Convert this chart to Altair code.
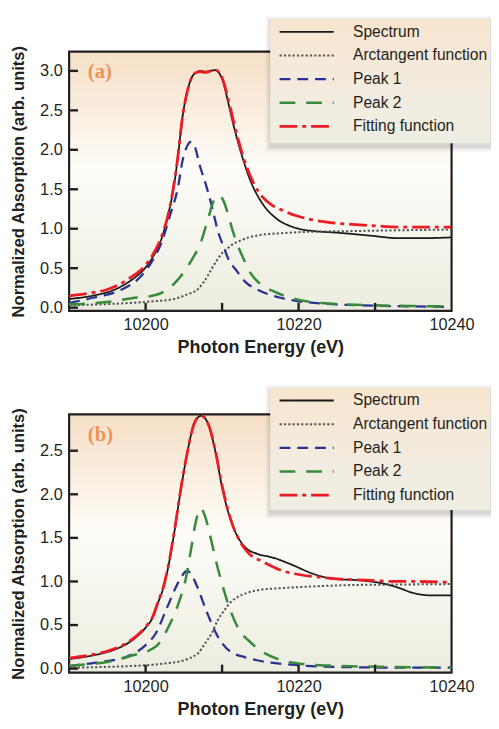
import altair as alt
import pandas as pd

FONT = "Liberation Sans, Arial, sans-serif"
SERIF = "Liberation Serif, Times New Roman, serif"
INK = "#231f20"
ORANGE = "#ef9356"

SERIES = ["Spectrum", "Arctangent function", "Peak 1", "Peak 2", "Fitting function"]
COLORS = ["#1a1a1a", "#555555", "#2b3190", "#3a8a3c", "#ec1c24"]
DASHES = [[1, 0], [2.2, 2.2], [11, 7], [16, 11], [18, 5, 4, 5]]
WIDTHS = [1.8, 2.8, 2.0, 2.0, 2.4]

X_DOMAIN = [10190, 10240]
X_LABELS = [10200, 10220, 10240]
X_TICKS = [10200, 10210, 10220, 10230]

Y_DOMAIN_A = [-0.04, 3.245]
Y_DOMAIN_B = [-0.045, 2.918]
Y_TICKS_A = [0.0, 0.5, 1.0, 1.5, 2.0, 2.5, 3.0]
Y_TICKS_B = [0.0, 0.5, 1.0, 1.5, 2.0, 2.5]

# ---------- panel (a) ----------
A_SPEC_E = [10190, 10193, 10196, 10198, 10200, 10201, 10202, 10203, 10203.6, 10204.2, 10204.8, 10205.4,
            10206, 10206.6, 10207.2, 10207.8, 10208.5, 10209.1, 10209.7, 10210.2, 10210.7, 10211.5,
            10212.8, 10213.5, 10214.2, 10215, 10215.8, 10216.6, 10217.5, 10218.5, 10220, 10222,
            10225, 10229.6, 10233, 10236, 10240]
A_SPEC_V = [0.11, 0.15, 0.23, 0.34, 0.51, 0.65, 0.85, 1.20, 1.48, 1.89, 2.40, 2.72,
            2.91, 2.98, 3.00, 2.99, 3.00, 3.01, 2.96, 2.84, 2.64, 2.31,
            1.86, 1.66, 1.50, 1.36, 1.25, 1.17, 1.10, 1.05, 1.00, 0.97,
            0.95, 0.91, 0.88, 0.88, 0.89]

A_ARC_E = [10190, 10195, 10198, 10201, 10203.7, 10205.5, 10206.8, 10207.5, 10208.1, 10208.8, 10209.4,
           10210, 10210.7, 10211.5, 10212.4, 10213.5, 10215, 10218, 10221, 10227, 10233, 10240]
A_ARC_V = [0.03, 0.045, 0.06, 0.08, 0.11, 0.17, 0.23, 0.31, 0.40, 0.52, 0.61,
           0.69, 0.75, 0.81, 0.85, 0.89, 0.92, 0.945, 0.96, 0.97, 0.98, 0.99]

A_P1_E = [10190, 10193.1, 10196.9, 10199.1, 10200.8, 10202.1, 10203.2, 10204.3, 10204.8, 10205.4, 10205.9,
          10206.5, 10207, 10208, 10208.7, 10209.45, 10210.2, 10210.9, 10211.8, 10213.1, 10214.6, 10217.6,
          10220, 10222, 10226.3, 10232, 10240]
A_P1_V = [0.06, 0.125, 0.23, 0.37, 0.58, 0.83, 1.17, 1.56, 1.85, 2.04, 2.10,
          2.02, 1.83, 1.52, 1.27, 0.97, 0.77, 0.60, 0.48, 0.32, 0.23, 0.125,
          0.08, 0.06, 0.035, 0.02, 0.01]

A_P2_E = [10190, 10192, 10195.6, 10198.2, 10201.3, 10203.8, 10205, 10206, 10207.3, 10208.2, 10209.1, 10209.6,
          10210.2, 10210.7, 10211.3, 10212, 10212.8, 10213.7, 10215, 10216.9, 10219.5, 10223, 10229.6, 10235, 10240]
A_P2_V = [0.04, 0.05, 0.08, 0.12, 0.16, 0.31, 0.45, 0.60, 0.85, 1.14, 1.39, 1.42,
          1.35, 1.21, 1.00, 0.80, 0.62, 0.44, 0.30, 0.20, 0.11, 0.06, 0.03, 0.02, 0.015]

A_FIT_E = [10190, 10193, 10195, 10198, 10200, 10201, 10202, 10203, 10203.6, 10204.2, 10204.8, 10205.4,
           10206, 10206.6, 10207.2, 10207.8, 10208.5, 10209.1, 10209.7, 10210.2, 10210.7, 10211.5,
           10212.8, 10214.1, 10215.3, 10216.5, 10218, 10219.5, 10221, 10222.5, 10225, 10228, 10231,
           10234, 10237, 10240]
A_FIT_V = [0.15, 0.19, 0.23, 0.38, 0.54, 0.68, 0.88, 1.20, 1.50, 1.90, 2.40, 2.72,
           2.91, 2.98, 2.99, 2.98, 3.00, 3.01, 2.97, 2.86, 2.68, 2.36,
           1.90, 1.58, 1.40, 1.30, 1.23, 1.17, 1.13, 1.10, 1.07, 1.05, 1.03,
           1.02, 1.02, 1.02]

# ---------- panel (b) ----------
B_SPEC_E = [10190, 10193, 10196, 10198, 10200, 10201, 10201.6, 10202.3, 10202.9, 10203.8, 10204.6, 10205.5,
            10206.3, 10206.8, 10207.3, 10207.8, 10208.3, 10209.1, 10210, 10211.1, 10212.4, 10213.3, 10214.5,
            10216.8, 10218.9, 10222, 10224.5, 10228.4, 10231.4, 10233, 10234.9, 10237.5, 10240]
B_SPEC_V = [0.11, 0.15, 0.22, 0.31, 0.47, 0.60, 0.75, 0.92, 1.14, 1.59, 2.05, 2.50,
            2.80, 2.88, 2.90, 2.87, 2.78, 2.50, 2.08, 1.71, 1.46, 1.37, 1.32,
            1.27, 1.20, 1.085, 1.03, 1.01, 0.97, 0.93, 0.87, 0.84, 0.84]

B_ARC_E = [10190, 10195, 10198.2, 10200.3, 10202.5, 10204.6, 10206, 10206.9, 10207.7, 10208.6, 10209.4,
           10210.3, 10211.1, 10212, 10213.3, 10214.6, 10218, 10221.1, 10227.6, 10233, 10240]
B_ARC_V = [0.01, 0.02, 0.03, 0.04, 0.06, 0.085, 0.13, 0.18, 0.28, 0.40, 0.55,
           0.67, 0.76, 0.82, 0.87, 0.90, 0.925, 0.94, 0.96, 0.965, 0.97]

B_P1_E = [10190, 10193.5, 10197.5, 10200, 10201.3, 10202.8, 10204.1, 10204.8, 10205.4, 10206, 10206.7,
          10208, 10209.3, 10211, 10213, 10215.5, 10219, 10225, 10232, 10240]
B_P1_V = [0.03, 0.07, 0.135, 0.27, 0.40, 0.70, 0.96, 1.07, 1.12, 1.08, 0.95,
          0.65, 0.39, 0.20, 0.13, 0.08, 0.045, 0.02, 0.012, 0.01]

B_P2_E = [10190, 10192.2, 10195.2, 10197.8, 10201.3, 10203, 10204.5, 10205.3, 10206, 10206.6, 10207.2,
          10207.8, 10208.5, 10209.3, 10210.2, 10211.3, 10212.4, 10213.5, 10214.5, 10217.6, 10220, 10224,
          10232, 10240]
B_P2_V = [0.03, 0.05, 0.08, 0.14, 0.25, 0.48, 0.80, 1.05, 1.40, 1.70, 1.84,
          1.74, 1.50, 1.20, 0.91, 0.62, 0.42, 0.32, 0.24, 0.10, 0.06, 0.035,
          0.02, 0.01]

B_FIT_E = [10190, 10193, 10196, 10198, 10200, 10201, 10201.6, 10202.3, 10202.9, 10203.8, 10204.6, 10205.5,
           10206.3, 10206.8, 10207.3, 10207.8, 10208.3, 10209.1, 10210, 10211.1, 10212.4, 10213.3, 10215.5,
           10218, 10220, 10222.7, 10225, 10227.3, 10230, 10232.5, 10235, 10240]
B_FIT_V = [0.12, 0.16, 0.23, 0.32, 0.48, 0.61, 0.76, 0.93, 1.15, 1.60, 2.06, 2.50,
           2.80, 2.88, 2.90, 2.87, 2.78, 2.51, 2.10, 1.72, 1.45, 1.34, 1.22,
           1.12, 1.08, 1.05, 1.03, 1.02, 1.01, 1.00, 1.00, 0.99]

# ---------- layout constants ----------
W = 388
H_A, H_B = 263, 262
BOX_X0, BOX_X1 = 204, 427


def series_frame(pairs):
    rows = []
    for name, (es, vs) in zip(SERIES, pairs):
        for e, v in zip(es, vs):
            rows.append({"E": e, "V": v, "series": name})
    return pd.DataFrame(rows)


def grad(stops):
    return alt.LinearGradient(
        gradient="linear",
        stops=[alt.GradientStop(color=c, offset=o) for c, o in stops],
        x1=0, x2=0, y1=0, y2=1,
    )


BG = grad([("#f6dfc6", 0), ("#fefcf8", 0.45), ("#ecede0", 1)])
BOX = grad([("#f8e5cf", 0), ("#f3ece0", 0.6), ("#efeee2", 1)])


def panel(df, h, ydom, yticks, tag, box_top, box_bottom, legend_y):
    one = pd.DataFrame({"k": [0]})
    xs = alt.Scale(domain=X_DOMAIN, nice=False, zero=False)
    ys = alt.Scale(domain=ydom, nice=False, zero=False)
    x_axis = alt.Axis(values=X_LABELS, format="d", title="Photon Energy (eV)",
                      labelPadding=6, titlePadding=6, labelFlush=False)
    y_axis = alt.Axis(values=yticks, format=".1f", title="Normalized Absorption (arb. units)",
                      labelPadding=7, titlePadding=12, labelFlush=False)

    bg = alt.Chart(one).mark_rect(color=BG).encode(
        x=alt.value(0), x2=alt.value(W), y=alt.value(0), y2=alt.value(h))
    frame = alt.Chart(one).mark_rect(fillOpacity=0, stroke=INK, strokeWidth=2.2).encode(
        x=alt.value(0), x2=alt.value(W), y=alt.value(0), y2=alt.value(h))

    leg = alt.Legend(
        orient="none", legendX=212, legendY=legend_y, title=None,
        symbolType="stroke", symbolSize=3025, symbolStrokeWidth=2,
        clipHeight=20, rowPadding=4, labelOffset=18,
        labelFont=FONT, labelFontSize=15.8, labelColor=INK, labelLimit=300,
        padding=0, direction="vertical",
    )
    lines = alt.Chart(df).mark_line(interpolate="monotone", strokeJoin="round").encode(
        x=alt.X("E:Q", scale=xs, axis=x_axis),
        y=alt.Y("V:Q", scale=ys, axis=y_axis),
        color=alt.Color("series:N", scale=alt.Scale(domain=SERIES, range=COLORS), legend=leg),
        strokeDash=alt.StrokeDash("series:N", scale=alt.Scale(domain=SERIES, range=DASHES), legend=leg),
        strokeWidth=alt.StrokeWidth("series:N", scale=alt.Scale(domain=SERIES, range=WIDTHS), legend=None),
    )

    xt = alt.Chart(pd.DataFrame({"E": X_TICKS})).mark_rule(color=INK, strokeWidth=2.4).encode(
        x=alt.X("E:Q", scale=xs, axis=x_axis), y=alt.value(h), y2=alt.value(h - 8))
    yt = alt.Chart(pd.DataFrame({"V": yticks})).mark_rule(color=INK, strokeWidth=2.4).encode(
        y=alt.Y("V:Q", scale=ys, axis=y_axis), x=alt.value(0), x2=alt.value(9))

    label = alt.Chart(one).mark_text(
        text=tag, font=SERIF, fontSize=21, fontWeight="bold", color=ORANGE,
        align="left", baseline="middle").encode(x=alt.value(19), y=alt.value(21))

    shadows = []
    for grow, op in [(6, 0.035), (4, 0.05), (2, 0.07)]:
        shadows.append(alt.Chart(one).mark_rect(color="#000000", opacity=op).encode(
            x=alt.value(BOX_X0 - grow + 1), x2=alt.value(BOX_X1 + 1),
            y=alt.value(box_top - grow + 3), y2=alt.value(box_bottom + grow + 3)))
    box = alt.Chart(one).mark_rect(color=BOX).encode(
        x=alt.value(BOX_X0), x2=alt.value(BOX_X1), y=alt.value(box_top), y2=alt.value(box_bottom))

    return alt.layer(bg, frame, lines, xt, yt, label, *shadows, box).properties(width=W, height=h)


df_a = series_frame([(A_SPEC_E, A_SPEC_V), (A_ARC_E, A_ARC_V), (A_P1_E, A_P1_V),
                     (A_P2_E, A_P2_V), (A_FIT_E, A_FIT_V)])
df_b = series_frame([(B_SPEC_E, B_SPEC_V), (B_ARC_E, B_ARC_V), (B_P1_E, B_P1_V),
                     (B_P2_E, B_P2_V), (B_FIT_E, B_FIT_V)])

top = panel(df_a, H_A, Y_DOMAIN_A, Y_TICKS_A, "(a)", -33, 93, -30)
bottom = panel(df_b, H_B, Y_DOMAIN_B, Y_TICKS_B, "(b)", -27, 97, -24)

chart = (
    alt.vconcat(top, bottom, spacing=105, bounds="flush")
    .resolve_scale(color="independent", strokeDash="independent", strokeWidth="independent")
    .properties(padding={"left": 3, "top": 3, "right": 0, "bottom": 0})
    .configure_view(stroke=None)
    .configure_axis(
        labelFont=FONT, labelFontSize=16.5, labelColor=INK,
        titleFont=FONT, titleFontSize=17, titleFontWeight="bold", titleColor=INK,
        domain=False, ticks=False, tickSize=0, grid=False,
    )
    .configure_axisY(titleFontSize=16.8)
    .configure_axisX(titleFontSize=18.2)
)

chart.save("out.html", embed_options={"renderer": "svg", "actions": False})
